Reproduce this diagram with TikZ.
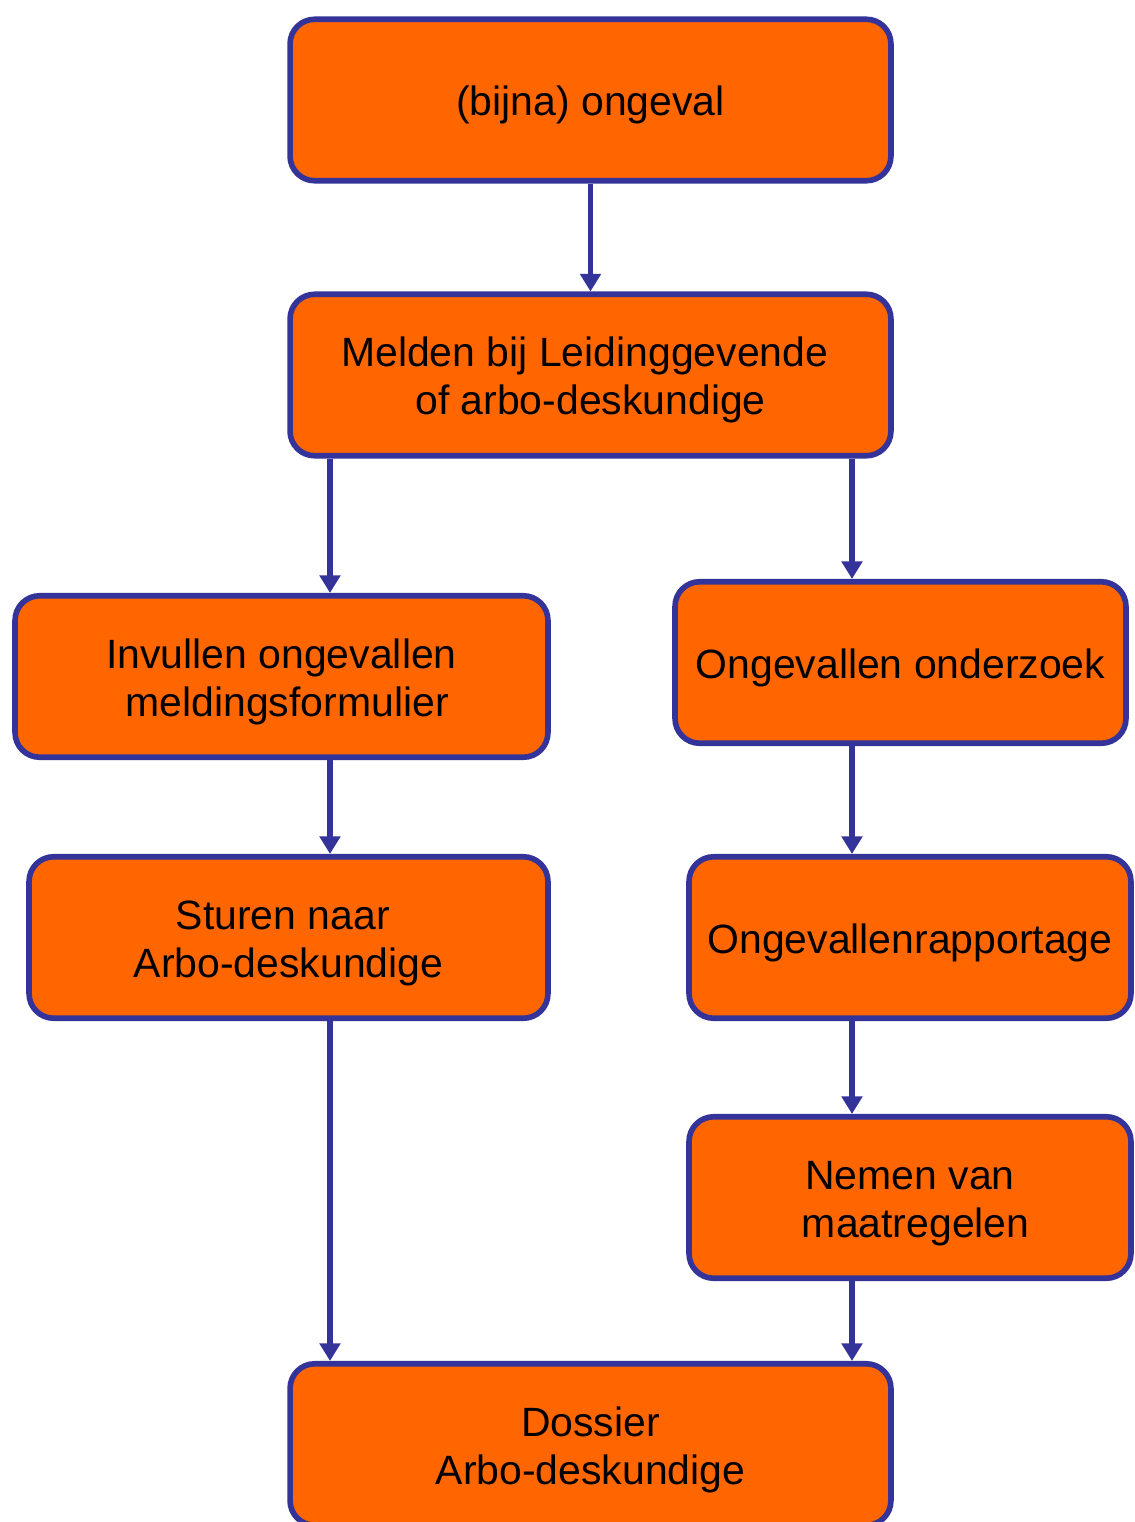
\documentclass[tikz,border=0pt]{standalone}
\usepackage{fontspec}
\setmainfont{Liberation Sans}
\usetikzlibrary{arrows.meta}

\definecolor{boxorange}{HTML}{FF6600}
\definecolor{linkblue}{HTML}{333399}

\newcommand{\padspace}{\hbox to 0.278em{}}

\begin{document}
\begin{tikzpicture}[x = 0.02cm, y = -0.02cm,
	> = {Triangle[width = 11.5pt, length = 10pt]},
	stepbox/.style = {draw = linkblue, line width = 3.2pt, fill = boxorange,
		rounded corners = 14pt, align = center, inner sep = 0pt,
		minimum height = 3.23cm, font = \fontsize{23.3}{27.3}\selectfont,
		execute at begin node = {\rule{0pt}{22.5pt}}},
	twolines/.style = {execute at begin node = {\rule{0pt}{49.8pt}}},
	link/.style = {->, draw = linkblue, line width = 3.3pt}]

	\useasboundingbox (0, 0) rectangle (1134, 1522);
	\clip (0, 0) rectangle (1134, 1522);

	% Boxes

	\node [stepbox, minimum width = 12.02cm] (ongeval) at (590.5, 100) {(bijna) ongeval};
	\node [stepbox, twolines, minimum width = 12.02cm] (melden) at (590.5, 375) {Melden bij Leidinggevende\padspace\\of arbo-deskundige};
	\node [stepbox, twolines, minimum width = 10.66cm] (invullen) at (281.5, 676.5) {Invullen ongevallen\\\padspace meldingsformulier};
	\node [stepbox, minimum width = 9.02cm] (onderzoek) at (900.5, 662.5) {Ongevallen onderzoek};
	\node [stepbox, twolines, minimum width = 10.38cm] (sturen) at (288.5, 937.5) {Sturen naar\padspace\\Arbo-deskundige};
	\node [stepbox, minimum width = 8.84cm] (rapportage) at (910, 937.5) {Ongevallenrapportage};
	\node [stepbox, twolines, minimum width = 8.84cm] (maatregelen) at (910, 1197.5) {Nemen van\\\padspace maatregelen};
	\node [stepbox, twolines, minimum width = 12.02cm] (dossier) at (590.5, 1444.5) {Dossier\\Arbo-deskundige};

	% Columns for the arrows

	\coordinate (leftcol) at (330, 0);
	\coordinate (rightcol) at (852, 0);

	% Arrows

	\draw [link] (ongeval) -- (melden);
	\draw [link] (melden.south -| leftcol) -- (invullen.north -| leftcol);
	\draw [link] (melden.south -| rightcol) -- (onderzoek.north -| rightcol);
	\draw [link] (invullen.south -| leftcol) -- (sturen.north -| leftcol);
	\draw [link] (onderzoek.south -| rightcol) -- (rapportage.north -| rightcol);
	\draw [link] (rapportage.south -| rightcol) -- (maatregelen.north -| rightcol);
	\draw [link] (sturen.south -| leftcol) -- (dossier.north -| leftcol);
	\draw [link] (maatregelen.south -| rightcol) -- (dossier.north -| rightcol);

\end{tikzpicture}
\end{document}
